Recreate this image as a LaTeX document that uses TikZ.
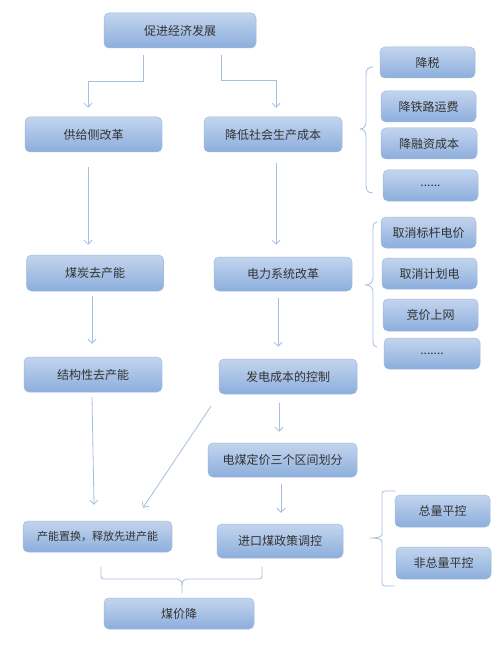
\documentclass[tikz,border=0pt]{standalone}
\usepackage{fontspec}
\newfontfamily\cjk{Noto Sans CJK SC}
\usetikzlibrary{arrows.meta,calc}
\definecolor{boxtop}{HTML}{C3D5EE}
\definecolor{boxbot}{HTML}{8CAEDC}
\definecolor{boxline}{HTML}{9FBADF}
\definecolor{lnk}{HTML}{A6BEE0}
\definecolor{txt}{HTML}{333333}
\tikzset{
  box/.style={rounded corners=5pt, top color=boxtop, bottom color=boxbot, draw=boxline, line width=0.5pt,
    text=txt, font=\cjk\fontsize{12}{14}\selectfont, inner sep=0pt, align=center},
  conn/.style={draw=lnk, line width=0.8pt, -{Straight Barb[length=4pt,width=8pt]}},
  brc/.style={draw=lnk, line width=0.8pt, line cap=round, line join=round}
}
\begin{document}
\begin{tikzpicture}[x=1pt,y=-1pt]
\useasboundingbox[fill=white] (0,0) rectangle (500,647);
% main column boxes
\node[box, minimum width=152pt, minimum height=35pt] (n1) at (180,30.5) {促进经济发展};
\node[box, minimum width=137pt, minimum height=35pt] (n2) at (93.5,134.5) {供给侧改革};
\node[box, minimum width=138pt, minimum height=35pt] (n3) at (273,134.5) {降低社会生产成本};
\node[box, minimum width=137pt, minimum height=36pt] (n4) at (95,273) {煤炭去产能};
\node[box, minimum width=138pt, minimum height=34pt] (n5) at (283,274) {电力系统改革};
\node[box, minimum width=138pt, minimum height=35pt] (n6) at (93,374.5) {结构性去产能};
\node[box, minimum width=138pt, minimum height=35pt] (n7) at (288,376.5) {发电成本的控制};
\node[box, minimum width=149pt, minimum height=34pt] (n8) at (282.5,460) {电煤定价三个区间划分};
\node[box, minimum width=149pt, minimum height=31pt, font=\cjk\fontsize{11}{13}\selectfont] (n9) at (97.5,536.5) {产能置换，释放先进产能};
\node[box, minimum width=126pt, minimum height=34pt] (n10) at (280,541) {进口煤政策调控};
\node[box, minimum width=150pt, minimum height=31pt] (n11) at (179,613.5) {煤价降};
% right groups
\node[box, minimum width=95pt, minimum height=31pt] (r1) at (427.5,62.5) {降税};
\node[box, minimum width=95pt, minimum height=31pt] (r2) at (428.5,106.5) {降铁路运费};
\node[box, minimum width=96pt, minimum height=31pt] (r3) at (429,143.5) {降融资成本};
\node[box, minimum width=95pt, minimum height=31pt] (r4) at (430.5,185.5) {......};
\node[box, minimum width=95pt, minimum height=31pt] (s1) at (428.5,232.5) {取消标杆电价};
\node[box, minimum width=95pt, minimum height=31pt] (s2) at (429.5,273.5) {取消计划电};
\node[box, minimum width=95pt, minimum height=32pt] (s3) at (430.5,315) {竞价上网};
\node[box, minimum width=96pt, minimum height=31pt] (s4) at (432,353.5) {.......};
\node[box, minimum width=95pt, minimum height=32pt] (t1) at (442.5,511) {总量平控};
\node[box, minimum width=95pt, minimum height=32pt] (t2) at (443.5,563) {非总量平控};
% connectors
\draw[conn] ($(n1.south)+(-37,7)$) -- ($(n1.south)+(-37,33)$) -| ($(n2.north)+(-5.5,-9)$);
\draw[conn] ($(n1.south)+(41,7)$) -- ($(n1.south)+(41,32)$) -| ($(n3.north)+(3,-9)$);
\draw[conn] ($(n2.south)+(-5.5,15)$) -- ($(n4.north)+(-7,-10)$);
\draw[conn] ($(n3.south)+(3,11)$) -- ($(n5.north)+(-7,-12)$);
\draw[conn] ($(n4.south)+(-3,5)$) -- ($(n6.north)+(-1,-13)$);
\draw[conn] ($(n5.south)+(-5,7)$) -- ($(n7.north)+(-10,-12)$);
\draw[conn] ($(n6.south)+(-1,5)$) -- ($(n9.north)+(-3.5,-16)$);
\draw[conn] ($(n7.south)+(-77,12)$) -- ($(n9.north)+(45.5,-13)$);
\draw[conn] ($(n7.south)+(-9,9)$) -- ($(n8.north)+(-3.5,-11)$);
\draw[conn] ($(n8.south)+(-1.5,7)$) -- ($(n10.north)+(1,-11)$);
% braces
\draw[brc] (373,67) .. controls (367,67) and (366,70) .. (366,76) -- (366,121)
  .. controls (366,126) and (364,129) .. (360,129)
  .. controls (364,129) and (366,132) .. (366,137) -- (366,184)
  .. controls (366,190) and (367,193) .. (373,193);
\draw[brc] (377,222) .. controls (374,222) and (373,224) .. (373,229) -- (373,278)
  .. controls (373,283) and (369,285) .. (365,285)
  .. controls (369,285) and (373,287) .. (373,292) -- (373,341)
  .. controls (373,345) and (374,347) .. (377,347);
\draw[brc] (395,491) -- (385,491) .. controls (383,491) and (382,492) .. (382,494) -- (382,534)
  .. controls (382,537) and (378,538) .. (370,538)
  .. controls (378,538) and (382,539) .. (382,542) -- (382,583)
  .. controls (382,585) and (383,586) .. (385,586) -- (395,586);
\draw[brc] (101,567) -- (101,576) .. controls (101,578) and (102,579) .. (104,579) -- (177,579)
  .. controls (180,579) and (182,581) .. (182,585) -- (182,593);
\draw[brc] (262,567) -- (262,576) .. controls (262,578) and (261,579) .. (259,579) -- (187,579)
  .. controls (184,579) and (182,581) .. (182,585);
\end{tikzpicture}
\end{document}
